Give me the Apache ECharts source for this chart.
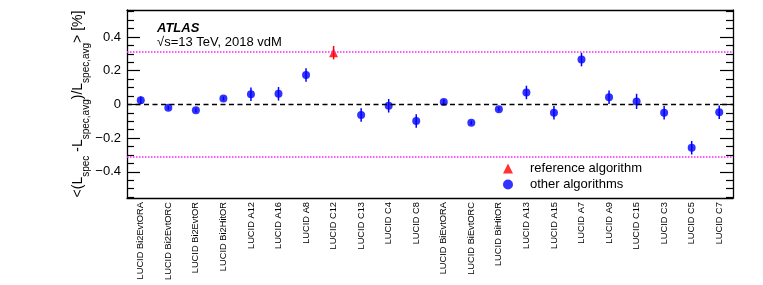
<!DOCTYPE html>
<html>
<head>
<meta charset="utf-8">
<script src="https://cdn.jsdelivr.net/npm/echarts@6/dist/echarts.min.js"></script>
<style>
html,body{margin:0;padding:0;background:#fff;}
#chart{width:763px;height:285px;}
</style>
</head>
<body>
<div id="chart"></div>
<script>
const categories = ['LUCID Bi2EvtORA','LUCID Bi2EvtORC','LUCID Bi2EvtOR','LUCID Bi2HitOR','LUCID A12','LUCID A16','LUCID A8','LUCID C12','LUCID C13','LUCID C4','LUCID C8','LUCID BiEvtORA','LUCID BiEvtORC','LUCID BiHitOR','LUCID A13','LUCID A15','LUCID A7','LUCID A9','LUCID C15','LUCID C3','LUCID C5','LUCID C7'];
const values = [0.025, -0.020, -0.034, 0.035, 0.061, 0.063, 0.175, 0.307, -0.063, -0.008, -0.099, 0.014, -0.109, -0.028, 0.071, -0.050, 0.266, 0.043, 0.018, -0.050, -0.257, -0.046];
const errors = [0.022, 0.012, 0.012, 0.012, 0.040, 0.040, 0.040, 0.040, 0.040, 0.040, 0.040, 0.015, 0.012, 0.012, 0.040, 0.040, 0.040, 0.040, 0.045, 0.040, 0.040, 0.040];
const referenceAlgorithm = 'LUCID C12';
const yTickLabels = [-0.4, -0.2, 0, 0.2, 0.4];
const yMinorTicks = [-0.55,-0.5,-0.45,-0.35,-0.3,-0.25,-0.15,-0.1,-0.05,0.05,0.1,0.15,0.25,0.3,0.35,0.45,0.5,0.55];
const bandLimit = 0.31;

const FONT = 'Liberation Sans';
const refIdx = categories.indexOf(referenceAlgorithm);
const refData = values.map((v, i) => i === refIdx ? v : null);
const otherData = values.map((v, i) => i === refIdx ? null : v);
const errData = values.map((v, i) => ({value: [i, v - errors[i], v + errors[i]], itemStyle: {color: i === refIdx ? '#ff0000' : '#0000ff'}}));

const yMin = -0.555, yMax = 0.56;
const baseY = {type: 'value', min: yMin, max: yMax, splitLine: {show: false}};

const chart = echarts.init(document.getElementById('chart'));
chart.setOption({
  animation: false,
  textStyle: {fontFamily: FONT},
  grid: {left: 127, right: 30, top: 10, bottom: 87, outerBoundsMode: 'none', containLabel: false},
  xAxis: [
    {type: 'category', data: categories, position: 'bottom',
     axisLine: {onZero: false, lineStyle: {color: '#000', width: 1.3}},
     axisTick: {inside: true, length: 7, alignWithLabel: true, lineStyle: {color: '#000', width: 1.2}},
     axisLabel: {rotate: 90, fontSize: 9.3, color: '#000', margin: 4, fontFamily: FONT, interval: 0}},
    {type: 'category', data: categories, position: 'top',
     axisLine: {onZero: false, lineStyle: {color: '#000', width: 1.3}},
     axisTick: {inside: true, length: 7, alignWithLabel: true, lineStyle: {color: '#000', width: 1.2}},
     axisLabel: {show: false}}
  ],
  yAxis: [
    Object.assign({}, baseY, {position: 'left',
      axisLine: {show: true, onZero: false, lineStyle: {color: '#000', width: 1.3}},
      axisTick: {show: true, inside: true, length: 13, customValues: yTickLabels, lineStyle: {color: '#000', width: 1.2}},
      axisLabel: {customValues: yTickLabels, fontSize: 13, color: '#000', margin: 6, fontFamily: FONT,
        formatter: v => (Math.abs(v) < 1e-9 ? '0' : String(+v.toFixed(1)).replace('-', '\u2212'))},
      name: '<(L{s|spec} -L{s|spec,avg})/L{s|spec,avg}> [%]',
      nameLocation: 'middle', nameRotate: 90, nameGap: 36, nameMoveOverlap: false,
      nameTextStyle: {fontSize: 14, color: '#000', fontFamily: FONT, verticalAlign: 'bottom',
        rich: {s: {fontSize: 10, fontFamily: FONT, color: '#000', verticalAlign: 'bottom', lineHeight: 25}}}
    }),
    Object.assign({}, baseY, {position: 'left',
      axisLine: {show: false},
      axisTick: {show: true, inside: true, length: 7, customValues: yMinorTicks, lineStyle: {color: '#000', width: 1.2}},
      axisLabel: {show: false}}),
    Object.assign({}, baseY, {position: 'right',
      axisLine: {show: true, onZero: false, lineStyle: {color: '#000', width: 1.3}},
      axisTick: {show: true, inside: true, length: 13, customValues: yTickLabels, lineStyle: {color: '#000', width: 1.2}},
      axisLabel: {show: false}}),
    Object.assign({}, baseY, {position: 'right',
      axisLine: {show: false},
      axisTick: {show: true, inside: true, length: 7, customValues: yMinorTicks, lineStyle: {color: '#000', width: 1.2}},
      axisLabel: {show: false}})
  ],
  legend: {
    orient: 'vertical', left: 503, top: 162, itemWidth: 10, itemHeight: 10, itemGap: 3, padding: 0,
    data: ['reference algorithm', 'other algorithms'],
    textStyle: {fontSize: 13, color: '#000', fontFamily: FONT, padding: [0, 0, 0, 12]}
  },
  graphic: [
    {type: 'text', left: 157, top: 22, style: {text: 'ATLAS', font: 'italic bold 13px "Liberation Sans"', fill: '#000'}},
    {type: 'text', left: 157, top: 36, style: {text: '\u221As=13 TeV, 2018 vdM', font: '13px "Liberation Sans"', fill: '#000'}}
  ],
  series: [
    {type: 'custom', name: 'errors', xAxisIndex: 0, yAxisIndex: 0, z: 3,
     renderItem: (params, api) => {
       const x = api.value(0);
       const p1 = api.coord([x, api.value(1)]);
       const p2 = api.coord([x, api.value(2)]);
       return {type: 'line', shape: {x1: p1[0], y1: p1[1], x2: p2[0], y2: p2[1]},
         style: {stroke: api.visual('color'), lineWidth: 1.5}};
     },
     encode: {x: 0, y: [1, 2]},
     data: errData},
    {type: 'scatter', name: 'other algorithms', data: otherData, symbol: 'circle', symbolSize: 8,
     itemStyle: {color: '#0000ff'}, z: 4,
     markLine: {silent: true, symbol: 'none', label: {show: false},
       data: [
         {yAxis: 0, lineStyle: {color: '#000', type: [5, 3.5], width: 1.3}},
         {yAxis: bandLimit, lineStyle: {color: '#ff22ff', type: [1.5, 1.5], width: 1.5}},
         {yAxis: -bandLimit, lineStyle: {color: '#ff22ff', type: [1.5, 1.5], width: 1.5}}
       ]}},
    {type: 'scatter', name: 'reference algorithm', data: refData, symbol: 'triangle', symbolSize: 9,
     itemStyle: {color: '#ff0000'}, z: 4}
  ]
});
</script>
</body>
</html>
